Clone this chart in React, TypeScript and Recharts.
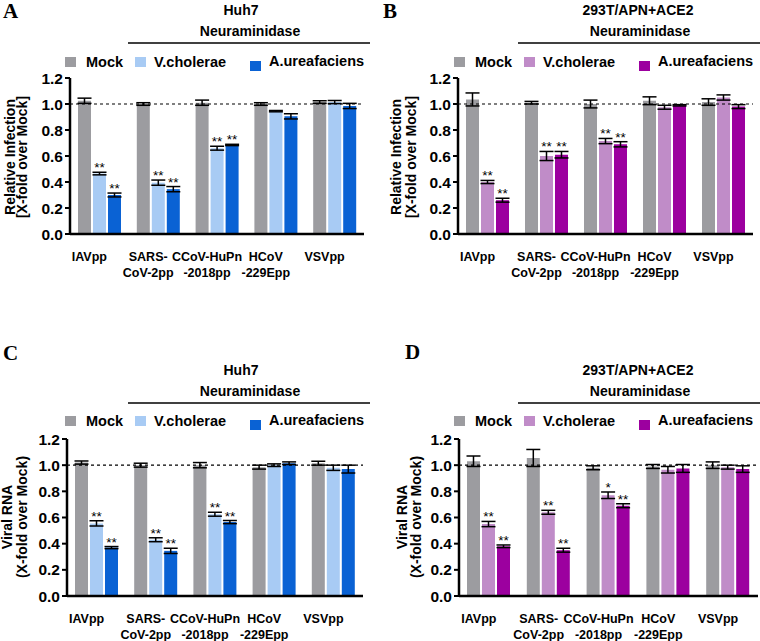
import React from 'react';
import { BarChart, Bar, XAxis, YAxis, ErrorBar, ReferenceLine, LabelList } from 'recharts';

const categories = ['IAVpp', 'SARS-CoV-2pp', 'CCoV-HuPn-2018pp', 'HCoV-229Epp', 'VSVpp'];
const tickLines = [['IAVpp'], ['SARS-', 'CoV-2pp'], ['CCoV-HuPn', '-2018pp'], ['HCoV', '-229Epp'], ['VSVpp']];
const yTicks = [0, 0.2, 0.4, 0.6, 0.8, 1.0, 1.2];
const seriesNames = ['Mock', 'V.cholerae', 'A.ureafaciens'];

// Panel A: Huh7, relative infection
const aMock = [1.025, 1.0, 1.01, 1.0, 1.015];
const aMockErr = [0.02, 0.01, 0.02, 0.01, 0.01];
const aVc = [0.465, 0.395, 0.66, 0.945, 1.015];
const aVcErr = [0.01, 0.02, 0.015, 0.005, 0.012];
const aAu = [0.30, 0.345, 0.685, 0.905, 0.985];
const aAuErr = [0.015, 0.02, 0.005, 0.02, 0.02];
const aVcSig = ['**', '**', '**', '', ''];
const aAuSig = ['**', '**', '**', '', ''];

// Panel B: 293T/APN+ACE2, relative infection
const bMock = [1.035, 1.01, 1.0, 1.025, 1.015];
const bMockErr = [0.05, 0.01, 0.03, 0.03, 0.025];
const bVc = [0.40, 0.60, 0.715, 0.975, 1.05];
const bVcErr = [0.012, 0.035, 0.02, 0.015, 0.02];
const bAu = [0.26, 0.61, 0.69, 0.99, 0.98];
const bAuErr = [0.015, 0.025, 0.02, 0.005, 0.015];
const bVcSig = ['**', '**', '**', '', ''];
const bAuSig = ['**', '**', '**', '', ''];

// Panel C: Huh7, viral RNA
const cMock = [1.02, 1.0, 1.0, 0.985, 1.015];
const cMockErr = [0.012, 0.015, 0.02, 0.015, 0.015];
const cVc = [0.555, 0.43, 0.625, 1.0, 0.98];
const cVcErr = [0.02, 0.015, 0.015, 0.01, 0.02];
const cAu = [0.37, 0.345, 0.565, 1.015, 0.97];
const cAuErr = [0.008, 0.02, 0.012, 0.01, 0.03];
const cVcSig = ['**', '**', '**', '', ''];
const cAuSig = ['**', '**', '**', '', ''];

// Panel D: 293T/APN+ACE2, viral RNA
const dMock = [1.03, 1.055, 0.98, 0.99, 1.0];
const dMockErr = [0.04, 0.065, 0.015, 0.015, 0.025];
const dVc = [0.55, 0.64, 0.77, 0.965, 0.985];
const dVcErr = [0.02, 0.015, 0.025, 0.025, 0.015];
const dAu = [0.38, 0.35, 0.69, 0.975, 0.97];
const dAuErr = [0.01, 0.015, 0.015, 0.03, 0.025];
const dVcSig = ['**', '**', '*', '', ''];
const dAuSig = ['**', '**', '**', '', ''];

const GRAY = '#9c9ca0';
const BLUE_L = '#a8cbf4';
const BLUE_D = '#0a62d4';
const PUR_L = '#c08cc8';
const PUR_D = '#9c009f';

const FONT = '"Liberation Sans", Arial, Helvetica, sans-serif';
const SERIF = '"Liberation Serif", "Times New Roman", serif';

const W = 380;
const H = 330;
const XAXIS_H = 50;
const YAXIS_W = 50;

type Cfg = {
  ox: number; oy: number;
  letter: string; letterX: number; letterY: number;
  cell: string; titleCx: number; cellCx: number; titleY: number;
  lineX1: number; lineX2: number;
  legendDx: number; legendY: number;
  yTitle: string[]; yTitleX: number[]; yTitleCy: number;
  plot: { left: number; right: number; top: number; bottom: number };
  colors: string[];
  mock: number[]; mockErr: number[]; vc: number[]; vcErr: number[]; au: number[]; auErr: number[];
  vcSig: string[]; auSig: string[];
};

const panels: Cfg[] = [
  {
    ox: 0, oy: 0, letter: 'A', letterX: 3, letterY: 18,
    cell: 'Huh7', cellCx: 241, titleCx: 250, titleY: 0,
    lineX1: 128, lineX2: 370, legendDx: 0, legendY: 0,
    yTitle: ['Relative Infection', '[X-fold over Mock]'], yTitleX: [15, 27], yTitleCy: 157,
    plot: { left: 70, right: 364, top: 78, bottom: 234 },
    colors: [GRAY, BLUE_L, BLUE_D],
    mock: aMock, mockErr: aMockErr, vc: aVc, vcErr: aVcErr, au: aAu, auErr: aAuErr, vcSig: aVcSig, auSig: aAuSig,
  },
  {
    ox: 380, oy: 0, letter: 'B', letterX: 3, letterY: 18,
    cell: '293T/APN+ACE2', cellCx: 258, titleCx: 260, titleY: 0,
    lineX1: 138, lineX2: 380, legendDx: 9, legendY: 0,
    yTitle: ['Relative Infection', '[X-fold over Mock]'], yTitleX: [21, 36], yTitleCy: 157,
    plot: { left: 78, right: 373, top: 78, bottom: 234 },
    colors: [GRAY, PUR_L, PUR_D],
    mock: bMock, mockErr: bMockErr, vc: bVc, vcErr: bVcErr, au: bAu, auErr: bAuErr, vcSig: bVcSig, auSig: bAuSig,
  },
  {
    ox: 0, oy: 320, letter: 'C', letterX: 3, letterY: 40,
    cell: 'Huh7', cellCx: 241, titleCx: 250, titleY: 40,
    lineX1: 128, lineX2: 370, legendDx: 0, legendY: 39,
    yTitle: ['Viral RNA', '(X-fold over Mock)'], yTitleX: [12, 27], yTitleCy: 197,
    plot: { left: 67, right: 363, top: 119, bottom: 276 },
    colors: [GRAY, BLUE_L, BLUE_D],
    mock: cMock, mockErr: cMockErr, vc: cVc, vcErr: cVcErr, au: cAu, auErr: cAuErr, vcSig: cVcSig, auSig: cAuSig,
  },
  {
    ox: 380, oy: 320, letter: 'D', letterX: 25, letterY: 39,
    cell: '293T/APN+ACE2', cellCx: 258, titleCx: 260, titleY: 40,
    lineX1: 138, lineX2: 380, legendDx: 9, legendY: 39,
    yTitle: ['Viral RNA', '(X-fold over Mock)'], yTitleX: [27, 41], yTitleCy: 197,
    plot: { left: 79, right: 378, top: 119, bottom: 276 },
    colors: [GRAY, PUR_L, PUR_D],
    mock: dMock, mockErr: dMockErr, vc: dVc, vcErr: dVcErr, au: dAu, auErr: dAuErr, vcSig: dVcSig, auSig: dAuSig,
  },
];

const XTick = (props: any) => {
  const { x, y, index } = props;
  const lines = tickLines[index] || [];
  const cx = x - 10;
  return (
    <text x={cx} y={y + 27} textAnchor="middle" fontFamily={FONT} fontWeight="bold" fontSize={12.5} fill="#000">
      {lines.map((l, k) => (
        <tspan key={k} x={cx} dy={k === 0 ? 0 : 15.5}>{l}</tspan>
      ))}
    </text>
  );
};

function makeStar(rows: any[], errKey: string, ppu: number) {
  return (p: any) => {
    const { x, y, width, index, value } = p;
    if (!value) return null;
    const err = rows[index][errKey] * ppu;
    return (
      <text x={x + width / 2} y={y - err} textAnchor="middle" fontFamily={FONT} fontSize={13.5} fill="#000">
        {value}
      </text>
    );
  };
}

function Panel({ cfg }: { cfg: Cfg }) {
  const rows = categories.map((c, i) => ({
    name: c,
    mock: cfg.mock[i], mockErr: cfg.mockErr[i],
    vc: cfg.vc[i], vcErr: cfg.vcErr[i],
    au: cfg.au[i], auErr: cfg.auErr[i],
    vcSig: cfg.vcSig[i], auSig: cfg.auSig[i],
  }));
  const { plot } = cfg;
  const ppu = (plot.bottom - plot.top) / 1.2;
  const ly = cfg.legendY;
  const lx = cfg.legendDx;
  return (
    <div style={{ position: 'absolute', left: cfg.ox, top: cfg.oy, width: W, height: H }}>
      <BarChart
        width={W}
        height={H}
        data={rows}
        margin={{ top: plot.top, right: W - plot.right, bottom: H - plot.bottom - XAXIS_H, left: plot.left - YAXIS_W }}
        barSize={13}
        barGap={2}
      >
        <XAxis
          dataKey="name"
          height={XAXIS_H}
          axisLine={{ stroke: '#000', strokeWidth: 2.5 }}
          tickLine={false}
          tickSize={0}
          tickMargin={0}
          interval={0}
          tick={<XTick />}
        />
        <YAxis
          width={YAXIS_W}
          domain={[0, 1.2]}
          ticks={yTicks}
          allowDataOverflow
          axisLine={{ stroke: '#000', strokeWidth: 2.5 }}
          tickLine={{ stroke: '#000', strokeWidth: 2 }}
          tickSize={5}
          tickMargin={2}
          tickFormatter={(v: number) => v.toFixed(1)}
          tick={{ fill: '#000', fontSize: 15.5, fontWeight: 'bold', fontFamily: FONT }}
        />
        <ReferenceLine y={1} stroke="#000" strokeWidth={1.2} strokeDasharray="3 3" ifOverflow="extendDomain" />
        <Bar dataKey="mock" fill={cfg.colors[0]} isAnimationActive={false}>
          <ErrorBar dataKey="mockErr" width={7} stroke="#000" strokeWidth={1.5} direction="y" />
        </Bar>
        <Bar dataKey="vc" fill={cfg.colors[1]} isAnimationActive={false}>
          <ErrorBar dataKey="vcErr" width={7} stroke="#000" strokeWidth={1.5} direction="y" />
          <LabelList dataKey="vcSig" content={makeStar(rows, 'vcErr', ppu)} />
        </Bar>
        <Bar dataKey="au" fill={cfg.colors[2]} isAnimationActive={false}>
          <ErrorBar dataKey="auErr" width={7} stroke="#000" strokeWidth={1.5} direction="y" />
          <LabelList dataKey="auSig" content={makeStar(rows, 'auErr', ppu)} />
        </Bar>
      </BarChart>
      <svg width={W} height={H} style={{ position: 'absolute', left: 0, top: 0, pointerEvents: 'none' }}>
        <text x={cfg.letterX} y={cfg.letterY} fontFamily={SERIF} fontWeight="bold" fontSize={21} fill="#000">{cfg.letter}</text>
        <text x={cfg.cellCx} y={15 + cfg.titleY} textAnchor="middle" fontFamily={FONT} fontWeight="bold" fontSize={14} fill="#000">{cfg.cell}</text>
        <text x={cfg.titleCx} y={36 + cfg.titleY} textAnchor="middle" fontFamily={FONT} fontWeight="bold" fontSize={14} fill="#000">Neuraminidase</text>
        <line x1={cfg.lineX1} x2={cfg.lineX2} y1={43 + cfg.titleY} y2={43 + cfg.titleY} stroke="#000" strokeWidth={1.5} />
        <rect x={65 + lx} y={57 + ly} width={11} height={10} fill={cfg.colors[0]} />
        <text x={86 + lx} y={67 + ly} fontFamily={FONT} fontWeight="bold" fontSize={14.5} fill="#000">{seriesNames[0]}</text>
        <rect x={135 + lx} y={57 + ly} width={11} height={10} fill={cfg.colors[1]} />
        <text x={154 + lx} y={67 + ly} fontFamily={FONT} fontWeight="bold" fontSize={14.5} fill="#000">{seriesNames[1]}</text>
        <rect x={250 + lx} y={61 + ly} width={11} height={10} fill={cfg.colors[2]} />
        <text x={269 + lx} y={66 + ly} fontFamily={FONT} fontWeight="bold" fontSize={14.5} fill="#000">{seriesNames[2]}</text>
        {cfg.yTitle.map((t, k) => (
          <text
            key={k}
            x={cfg.yTitleX[k]}
            y={cfg.yTitleCy}
            transform={`rotate(-90 ${cfg.yTitleX[k]} ${cfg.yTitleCy})`}
            textAnchor="middle"
            fontFamily={FONT}
            fontWeight="bold"
            fontSize={14}
            fill="#000"
          >
            {t}
          </text>
        ))}
      </svg>
    </div>
  );
}

export default function App() {
  return (
    <div style={{ position: 'absolute', left: 0, top: 0, width: 760, height: 641, background: '#fff', overflow: 'hidden' }}>
      {panels.map((p, i) => (
        <Panel key={i} cfg={p} />
      ))}
    </div>
  );
}
